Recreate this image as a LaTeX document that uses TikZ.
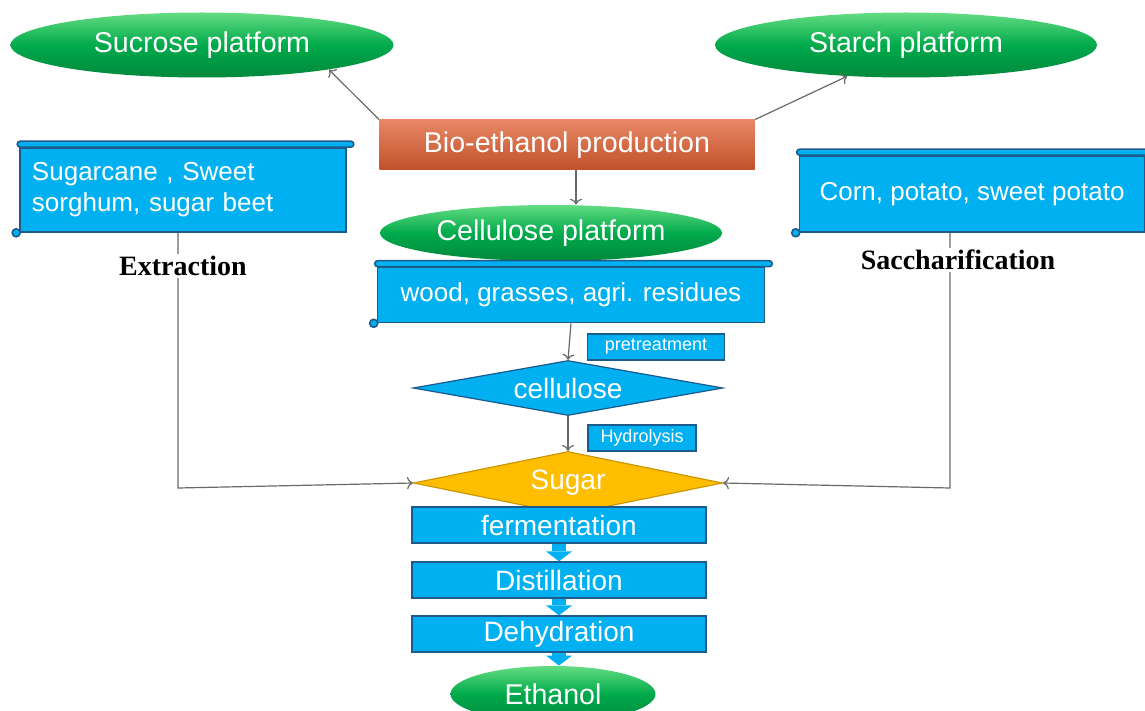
\documentclass[tikz,border=0pt]{standalone}
\usepackage{fontspec}
\setmainfont{Liberation Sans}
\newfontfamily\labelfont{Liberation Serif}
\usetikzlibrary{shapes.geometric}
\usetikzlibrary{arrows.meta}
\definecolor{boxblue}{RGB}{0,176,240}
\definecolor{boxline}{RGB}{30,90,140}
\definecolor{platgreen}{RGB}{0,170,75}
\definecolor{platlight}{RGB}{100,220,130}
\definecolor{prodorange}{RGB}{225,95,50}
\definecolor{sugaryellow}{RGB}{255,190,0}
\definecolor{linkgray}{RGB}{105,105,105}

\begin{document}
\begin{tikzpicture}[x=0.5pt,y=-0.5pt,>=To,
		platform/.style={ellipse,inner sep=0pt,top color=platlight,bottom color=platgreen!80!black,middle color=platgreen,text=white,font=\fontsize{14.3}{16}\selectfont},
		prodbox/.style={rectangle,inner sep=0pt,top color=prodorange!75!white,bottom color=prodorange!85!black,text=white,font=\fontsize{14.3}{16}\selectfont},
		scroll/.style={rectangle,fill=boxblue,draw=boxline,line width=0.8pt,text=white,inner sep=0pt,font=\fontsize{13}{15.5}\selectfont},
		scrollbar/.style={fill=boxblue,draw=boxline,line width=0.8pt,rounded corners=1.5pt},
		tagbox/.style={rectangle,fill=boxblue,draw=boxline,line width=0.6pt,text=white,inner sep=0pt,minimum height=13pt,font=\fontsize{9}{10}\selectfont},
		choice/.style={diamond,inner sep=0pt,line width=0.6pt,text=white,font=\fontsize{14}{16}\selectfont},
		stage/.style={rectangle,fill=boxblue,draw=boxline,line width=0.6pt,text=white,inner sep=0pt,minimum width=147pt,minimum height=18pt,font=\fontsize{14}{16}\selectfont},
		steplabel/.style={fill=white,inner sep=1pt,font=\labelfont\bfseries\fontsize{14}{16}\selectfont},
		link/.style={->,draw=linkgray,line width=0.6pt},
		stagearrow/.style={draw=boxblue,line width=7pt,-{Triangle[width=13pt,length=5pt,line width=0pt]}}
		]
		\useasboundingbox (0,0) rectangle (1145,711);
		\node[platform,minimum width=191.5pt,minimum height=32.5pt] (sucrose) at (202,45) {Sucrose platform};
		\node[platform,minimum width=191pt,minimum height=32.5pt] (starch) at (906,45) {Starch platform};
		\node[prodbox,minimum width=187.5pt,minimum height=25pt] (bio) at (567,145) {Bio-ethanol production};
		\node[platform,minimum width=171pt,minimum height=28pt] (cellp) at (551,233) {Cellulose platform};
		\node[scroll,minimum width=163pt,minimum height=42pt,inner xsep=6pt,text width=151pt,align=left] (cane) at (183,190) {Sugarcane , Sweet\\sorghum, sugar beet};
		\node[scroll,minimum width=172.5pt,minimum height=38pt] (corn) at (972,194) {Corn, potato, sweet potato};
		\node[scroll,minimum width=193.5pt,minimum height=27.5pt] (wood) at (571,295) {wood, grasses, agri. residues};
		\foreach \s in {cane,corn,wood}{
			\draw[scrollbar] ([xshift=-1pt]\s.north west) rectangle ([xshift=3.5pt,yshift=3pt]\s.north east);
			\draw[scrollbar] ([xshift=-1.5pt]\s.south west) circle (2pt);
		}
		\node[tagbox,minimum width=68.5pt] (pretr) at (656,347) {pretreatment};
		\node[tagbox,minimum width=54pt] (hydro) at (642,438) {Hydrolysis};
		\node[choice,aspect=5.6,fill=boxblue,draw=boxline,minimum width=155pt,minimum height=27.5pt] (cellu) at (568,388) {cellulose};
		\node[choice,aspect=4.9,fill=sugaryellow,draw=sugaryellow!80!black,minimum width=154.5pt,minimum height=31.5pt] (sugar) at (568,483) {Sugar};
		\node[stage] (ferm) at (559,525) {fermentation};
		\node[stage] (dist) at (559,580) {Distillation};
		\node[stage] (dehyd) at (559,634) {Dehydration};
		\node[platform,minimum width=102.5pt,minimum height=28pt] (ethanol) at (553,694) {Ethanol};
		\coordinate (lbend) at (178,488);
		\coordinate (rbend) at (950,488);
		\draw[link] (bio.north west) -- (sucrose.-11);
		\draw[link] (bio.north east) -- (starch.208);
		\draw[link] ([xshift=4.5pt]bio.south) -- ([xshift=4.5pt]bio.south |- cellp.north);
		\draw[link] (wood.south) -- (cellu.north);
		\draw[link] (cellu.south) -- (sugar.north);
		\draw[link] (lbend |- cane.south) -- (lbend) -- (sugar.west);
		\draw[link] (rbend |- corn.south) -- (rbend) -- (sugar.east);
		\draw[stagearrow] (ferm.south) -- (dist.north);
		\draw[stagearrow] (dist.south) -- (dehyd.north);
		\draw[stagearrow] (dehyd.south) -- (dehyd.south |- ethanol.north);
		\node[steplabel] (extr) at (183,266) {Extraction};
		\node[steplabel] (sacch) at (958,260) {Saccharification};
\end{tikzpicture}
\end{document}
